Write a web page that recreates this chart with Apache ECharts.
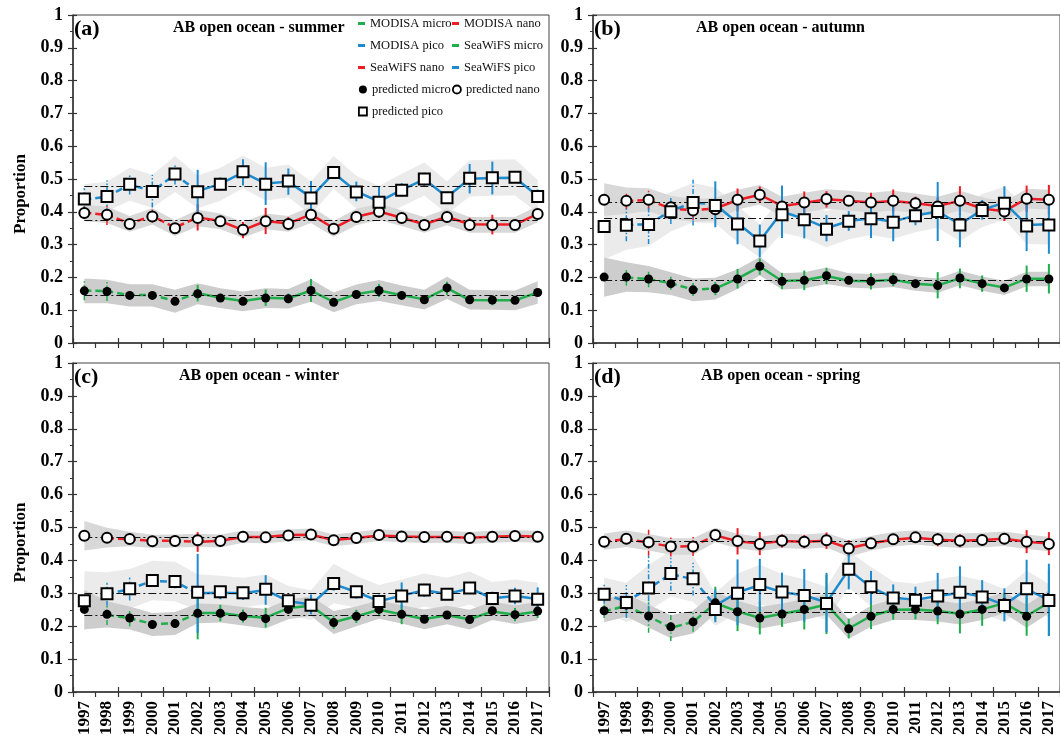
<!DOCTYPE html>
<html><head><meta charset="utf-8">
<script src="https://cdn.jsdelivr.net/npm/echarts@6/dist/echarts.min.js"></script>
<style>html,body{margin:0;padding:0;background:#fff}#c{width:1060px;height:740px}</style>
</head><body><div id="c"></div>
<script>
// ---------------- DATA ----------------
const years = ['1997','1998','1999','2000','2001','2002','2003','2004','2005','2006','2007','2008','2009','2010','2011','2012','2013','2014','2015','2016','2017'];
const panelLabels = ['(a)','(b)','(c)','(d)'];
const panelTitles = ['AB open ocean - summer','AB open ocean - autumn','AB open ocean - winter','AB open ocean - spring'];
const sensorSwitchYear = '2002';   // SeaWiFS (dashed) up to here, MODISA (solid) from here

// (a) summer
const aPredMicro = [0.159,0.157,0.145,0.145,0.127,0.150,0.137,0.127,0.137,0.135,0.160,0.124,0.148,0.160,0.145,0.132,0.168,0.132,0.131,0.130,0.154];
const aPredNano  = [0.396,0.391,0.363,0.386,0.350,0.381,0.371,0.345,0.371,0.363,0.391,0.348,0.384,0.400,0.381,0.360,0.384,0.360,0.360,0.360,0.393];
const aPredPico  = [0.439,0.447,0.484,0.462,0.515,0.461,0.484,0.522,0.484,0.494,0.442,0.520,0.460,0.429,0.466,0.500,0.443,0.502,0.504,0.505,0.447];
const aSatMicro  = [0.160,0.158,0.146,0.146,0.128,0.152,0.138,0.128,0.138,0.136,0.160,0.125,0.149,0.160,0.146,0.133,0.167,0.131,0.130,0.130,0.154];
const aSatNano   = [0.398,0.390,0.365,0.387,0.352,0.383,0.372,0.344,0.372,0.364,0.392,0.350,0.385,0.401,0.382,0.362,0.385,0.362,0.361,0.361,0.394];
const aSatPico   = [0.437,0.446,0.483,0.463,0.513,0.463,0.485,0.520,0.486,0.492,0.444,0.518,0.462,0.431,0.467,0.499,0.445,0.501,0.503,0.504,0.448];
const aErrMicro  = [0.03,0.03,0.01,0.01,0.01,0.025,0.01,0.01,0.025,0.015,0.035,0.01,0.01,0.02,0.01,0.01,0.02,0.01,0.015,0.01,0.01];
const aErrNano   = [0.02,0.03,0.01,0.02,0.015,0.04,0.01,0.025,0.04,0.02,0.02,0.01,0.01,0.02,0.01,0.01,0.01,0.02,0.03,0.01,0.01];
const aErrPico   = [0.035,0.05,0.03,0.05,0.03,0.065,0.02,0.04,0.065,0.04,0.05,0.015,0.03,0.045,0.02,0.02,0.01,0.045,0.05,0.01,0.02];
const aBandMicro = [0.038,0.036,0.034,0.034,0.035,0.032,0.03,0.03,0.03,0.03,0.034,0.03,0.03,0.032,0.03,0.03,0.034,0.03,0.03,0.03,0.034];
const aBandNano  = [0.025,0.025,0.024,0.025,0.024,0.025,0.024,0.024,0.024,0.024,0.025,0.024,0.025,0.025,0.024,0.024,0.025,0.024,0.024,0.024,0.025];
const aBandPico  = [0.045,0.045,0.05,0.05,0.055,0.05,0.05,0.05,0.05,0.05,0.05,0.05,0.05,0.05,0.05,0.05,0.05,0.055,0.055,0.055,0.05];
const aMean = [0.146, 0.375, 0.478]; // micro, nano, pico

// (b) autumn
const bPredMicro = [0.201,0.201,0.195,0.181,0.162,0.166,0.195,0.234,0.188,0.191,0.205,0.191,0.188,0.193,0.181,0.175,0.198,0.181,0.168,0.195,0.195];
const bPredNano  = [0.437,0.434,0.437,0.414,0.404,0.408,0.437,0.452,0.416,0.428,0.439,0.434,0.428,0.434,0.426,0.416,0.434,0.414,0.401,0.440,0.437];
const bPredPico  = [0.355,0.359,0.361,0.400,0.428,0.419,0.363,0.311,0.391,0.376,0.347,0.371,0.379,0.368,0.388,0.401,0.360,0.404,0.426,0.357,0.360];
const bSatMicro  = [null,0.200,0.195,0.182,0.163,0.166,0.196,0.233,0.189,0.191,0.204,0.190,0.188,0.193,0.181,0.176,0.197,0.181,0.169,0.196,0.196];
const bSatNano   = [null,0.433,0.436,0.410,0.405,0.410,0.436,0.452,0.418,0.427,0.438,0.434,0.428,0.433,0.426,0.418,0.433,0.410,0.402,0.440,0.437];
const bSatPico   = [null,0.360,0.362,0.403,0.428,0.423,0.366,0.311,0.400,0.379,0.350,0.372,0.380,0.370,0.389,0.401,0.362,0.406,0.428,0.360,0.362];
const bErrMicro  = [null,0.025,0.025,0.02,0.02,0.02,0.03,0.025,0.025,0.03,0.025,0.01,0.025,0.02,0.01,0.04,0.03,0.025,0.01,0.04,0.045];
const bErrNano   = [null,0.025,0.03,0.01,0.03,0.02,0.035,0.025,0.02,0.035,0.025,0.015,0.03,0.035,0.02,0.025,0.045,0.01,0.03,0.04,0.045];
const bErrPico   = [null,0.05,0.06,0.04,0.07,0.07,0.065,0.05,0.08,0.06,0.04,0.03,0.06,0.06,0.03,0.09,0.07,0.03,0.05,0.08,0.09];
const bBandMicro = [0.06,0.045,0.04,0.035,0.035,0.033,0.03,0.028,0.025,0.025,0.025,0.022,0.022,0.022,0.022,0.022,0.022,0.022,0.022,0.022,0.022];
const bBandNano  = [0.05,0.04,0.035,0.035,0.035,0.035,0.03,0.03,0.03,0.03,0.03,0.03,0.03,0.03,0.03,0.03,0.03,0.03,0.03,0.03,0.03];
const bBandPico  = [0.1,0.075,0.065,0.06,0.06,0.055,0.055,0.05,0.055,0.055,0.055,0.055,0.05,0.05,0.05,0.05,0.05,0.05,0.05,0.055,0.06];
const bMean = [0.191, 0.429, 0.379];

// (c) winter
const cPredMicro = [0.251,0.236,0.225,0.205,0.208,0.239,0.239,0.230,0.223,0.251,0.261,0.211,0.230,0.251,0.236,0.221,0.234,0.220,0.247,0.235,0.246];
const cPredNano  = [0.475,0.469,0.465,0.458,0.459,0.461,0.459,0.472,0.470,0.476,0.479,0.461,0.468,0.477,0.473,0.471,0.472,0.468,0.472,0.474,0.472];
const cPredPico  = [0.277,0.299,0.314,0.339,0.336,0.303,0.305,0.302,0.312,0.277,0.264,0.330,0.305,0.275,0.292,0.310,0.297,0.316,0.284,0.292,0.282];
const cSatMicro  = [null,0.234,0.224,0.207,0.209,0.240,0.240,0.231,0.226,0.255,0.262,0.212,0.230,0.250,0.236,0.222,0.233,0.221,0.245,0.235,0.245];
const cSatNano   = [null,0.468,0.464,0.459,0.460,0.456,0.460,0.471,0.471,0.477,0.478,0.462,0.468,0.476,0.473,0.471,0.471,0.469,0.472,0.474,0.473];
const cSatPico   = [null,0.297,0.313,0.338,0.335,0.300,0.302,0.300,0.310,0.276,0.266,0.328,0.304,0.276,0.293,0.309,0.298,0.315,0.285,0.292,0.283];
const cErrMicro  = [null,0.03,0.025,0.01,0.01,0.08,0.025,0.02,0.03,0.01,0.02,0.02,0.02,0.02,0.03,0.01,0.01,0.01,0.01,0.02,0.02];
const cErrNano   = [null,0.005,0.005,0.005,0.005,0.03,0.005,0.005,0.005,0.005,0.005,0.005,0.005,0.005,0.005,0.005,0.005,0.005,0.005,0.005,0.005];
const cErrPico   = [null,0.035,0.035,0.01,0.02,0.12,0.02,0.02,0.045,0.01,0.03,0.02,0.02,0.02,0.04,0.02,0.01,0.01,0.02,0.025,0.035];
const cBandMicro = [0.06,0.04,0.035,0.035,0.035,0.03,0.028,0.028,0.03,0.03,0.03,0.035,0.03,0.028,0.028,0.03,0.028,0.03,0.028,0.028,0.028];
const cBandNano  = [0.045,0.03,0.022,0.02,0.02,0.02,0.02,0.018,0.018,0.018,0.018,0.018,0.018,0.018,0.018,0.018,0.018,0.018,0.018,0.018,0.018];
const cBandPico  = [0.09,0.065,0.06,0.06,0.06,0.055,0.048,0.045,0.045,0.045,0.045,0.06,0.048,0.05,0.05,0.05,0.05,0.05,0.05,0.05,0.05];
const cMean = [0.233, 0.470, 0.300];

// (d) spring
const dPredMicro = [0.247,0.264,0.231,0.198,0.213,0.271,0.244,0.225,0.237,0.251,0.267,0.192,0.230,0.251,0.251,0.246,0.237,0.251,0.271,0.230,0.274];
const dPredNano  = [0.457,0.466,0.455,0.442,0.442,0.477,0.459,0.450,0.460,0.457,0.461,0.436,0.452,0.464,0.470,0.464,0.460,0.462,0.466,0.457,0.450];
const dPredPico  = [0.297,0.272,0.316,0.360,0.344,0.251,0.300,0.327,0.304,0.293,0.269,0.373,0.320,0.286,0.279,0.292,0.303,0.289,0.263,0.314,0.278];
const dSatMicro  = [0.245,0.262,0.230,0.195,0.213,0.270,0.245,0.225,0.238,0.250,0.266,0.193,0.231,0.250,0.251,0.246,0.238,0.251,0.270,0.231,0.272];
const dSatNano   = [0.456,0.465,0.454,0.442,0.443,0.476,0.458,0.451,0.459,0.457,0.460,0.437,0.452,0.463,0.469,0.463,0.460,0.462,0.466,0.457,0.451];
const dSatPico   = [0.298,0.275,0.315,0.358,0.343,0.262,0.303,0.325,0.303,0.294,0.272,0.372,0.318,0.287,0.280,0.292,0.302,0.290,0.265,0.312,0.280];
const dErrMicro  = [0.02,0.02,0.05,0.04,0.03,0.05,0.06,0.05,0.04,0.06,0.09,0.03,0.04,0.03,0.03,0.04,0.06,0.05,0.03,0.06,0.1];
const dErrNano   = [0.01,0.01,0.04,0.03,0.03,0.01,0.04,0.035,0.02,0.02,0.025,0.025,0.01,0.01,0.01,0.02,0.02,0.01,0.01,0.035,0.035];
const dErrPico   = [0.03,0.05,0.1,0.05,0.05,0.05,0.1,0.08,0.06,0.08,0.09,0.06,0.05,0.04,0.04,0.07,0.08,0.05,0.05,0.09,0.11];
const dBandMicro = [0.035,0.035,0.035,0.035,0.035,0.033,0.033,0.033,0.032,0.032,0.032,0.03,0.032,0.032,0.032,0.032,0.032,0.032,0.032,0.035,0.035];
const dBandNano  = [0.025,0.025,0.025,0.025,0.025,0.022,0.022,0.022,0.022,0.022,0.022,0.025,0.022,0.022,0.022,0.022,0.022,0.022,0.022,0.022,0.022];
const dBandPico  = [0.05,0.06,0.07,0.07,0.07,0.05,0.06,0.06,0.055,0.05,0.05,0.055,0.06,0.05,0.05,0.05,0.05,0.05,0.05,0.055,0.05];
const dMean = [0.242, 0.457, 0.301];

// ---------------- STYLE / LAYOUT ----------------
const FONT = '"Liberation Serif", "Times New Roman", serif';
const COL = {micro:'#1fae4b', nano:'#ee1c24', pico:'#1d8bcd'};
const BANDCOL = {pico:'#ebebeb', nano:'#d8d8d8', micro:'#cdcdcd'};
const PW = 476;
const layout = [
  {left:73, top:15, height:328, titleDx:100},
  {left:593, top:15, height:328, titleDx:103},
  {left:73, top:363, height:329, titleDx:106},
  {left:593, top:363, height:329, titleDx:108}
];
const panels = [
  {pred:{micro:aPredMicro,nano:aPredNano,pico:aPredPico}, sat:{micro:aSatMicro,nano:aSatNano,pico:aSatPico}, err:{micro:aErrMicro,nano:aErrNano,pico:aErrPico}, band:{micro:aBandMicro,nano:aBandNano,pico:aBandPico}, mean:aMean},
  {pred:{micro:bPredMicro,nano:bPredNano,pico:bPredPico}, sat:{micro:bSatMicro,nano:bSatNano,pico:bSatPico}, err:{micro:bErrMicro,nano:bErrNano,pico:bErrPico}, band:{micro:bBandMicro,nano:bBandNano,pico:bBandPico}, mean:bMean},
  {pred:{micro:cPredMicro,nano:cPredNano,pico:cPredPico}, sat:{micro:cSatMicro,nano:cSatNano,pico:cSatPico}, err:{micro:cErrMicro,nano:cErrNano,pico:cErrPico}, band:{micro:cBandMicro,nano:cBandNano,pico:cBandPico}, mean:cMean},
  {pred:{micro:dPredMicro,nano:dPredNano,pico:dPredPico}, sat:{micro:dSatMicro,nano:dSatNano,pico:dSatPico}, err:{micro:dErrMicro,nano:dErrNano,pico:dErrPico}, band:{micro:dBandMicro,nano:dBandNano,pico:dBandPico}, mean:dMean}
];
const SPLIT = years.indexOf(sensorSwitchYear);
const groups = ['micro','nano','pico'];

const option = {animation:false, backgroundColor:'#fff', grid:[], xAxis:[], yAxis:[], series:[], title:[], legend:[]};

panels.forEach((p, k) => {
  const L = layout[k];
  const bottomRow = k >= 2, leftCol = k % 2 === 0;
  const xi = 2*k, yi = 2*k;
  option.grid.push({left:L.left, top:L.top, width:PW, height:L.height, show:true, borderColor:'#444', borderWidth:1, backgroundColor:'transparent'});
  option.xAxis.push({type:'category', gridIndex:k, data:years, position:'bottom', boundaryGap:true,
    axisLine:{show:true, lineStyle:{color:'#333', width:1.5}},
    axisTick:{show:true, length:5, lineStyle:{color:'#333', width:1.2}},
    axisLabel:{show:bottomRow, rotate:90, interval:0, fontFamily:FONT, fontWeight:'bold', fontSize:17, color:'#000', margin:9},
    splitLine:{show:false}});
  option.xAxis.push({type:'category', gridIndex:k, data:years, position:'bottom', boundaryGap:true,
    axisLine:{show:false}, axisTick:{show:true, inside:true, length:5, lineStyle:{color:'#333', width:1.2}},
    axisLabel:{show:false}, splitLine:{show:false}});
  option.yAxis.push({type:'value', gridIndex:k, min:0, max:1, interval:0.1, position:'left',
    name: leftCol ? 'Proportion' : '', nameLocation:'middle', nameGap:44, nameRotate:90,
    nameTextStyle:{fontFamily:FONT, fontWeight:'bold', fontSize:17, color:'#000', padding:[0,30,0,0]},
    axisLine:{show:true, lineStyle:{color:'#333', width:1.5}},
    axisTick:{show:true, length:5, lineStyle:{color:'#333', width:1.2}},
    minorTick:{show:true, splitNumber:2, length:3, lineStyle:{color:'#333', width:1}},
    axisLabel:{fontFamily:FONT, fontWeight:'bold', fontSize:18, color:'#000', margin:10},
    splitLine:{show:false}, minorSplitLine:{show:false}});
  option.yAxis.push({type:'value', gridIndex:k, min:0, max:1, interval:0.1, position:'left',
    axisLine:{show:false}, axisTick:{show:true, inside:true, length:4, lineStyle:{color:'#333', width:1.2}},
    axisLabel:{show:false}, splitLine:{show:false}});

  option.title.push({text:panelLabels[k], left:L.left+1, top:L.top+3, padding:0,
    textStyle:{fontFamily:FONT, fontWeight:'bold', fontSize:22, color:'#000'}});
  option.title.push({text:panelTitles[k], left:L.left+L.titleDx, top:L.top+5, padding:0,
    textStyle:{fontFamily:FONT, fontWeight:'bold', fontSize:16, color:'#000'}});

  // bands (pico lightest first, micro darkest last)
  ['pico','nano','micro'].forEach(g => {
    const pred = p.pred[g], half = p.band[g];
    option.series.push({type:'custom', xAxisIndex:xi, yAxisIndex:yi, z:1, silent:true,
      data: pred.map((v,i)=>[i, v]), encode:{x:0, y:1},
      renderItem(params, api){
        if (params.dataIndex !== 0) return null;
        const up = pred.map((v,i)=>api.coord([i, v + half[i]]));
        const lo = pred.map((v,i)=>api.coord([i, v - half[i]])).reverse();
        return {type:'polygon', shape:{points: up.concat(lo)}, style:{fill:BANDCOL[g]}};
      }});
  });

  // mean lines
  option.series.push({type:'line', xAxisIndex:xi, yAxisIndex:yi, z:2, silent:true, data:[],
    markLine:{silent:true, symbol:['none','none'], label:{show:false}, animation:false,
      lineStyle:{color:'#111', width:1, type:[8,3,2,3]},
      data: p.mean.map(m => [{coord:[years[0], m]}, {coord:[years[years.length-1], m]}])}});

  groups.forEach(g => {
    const sat = p.sat[g], err = p.err[g], color = COL[g];
    [true, false].forEach(sea => {
      const data = [];
      sat.forEach((v,i) => {
        if (v == null || err[i] == null) return;
        if (sea ? i < SPLIT : i >= SPLIT) data.push([i, v - err[i], v + err[i]]);
      });
      option.series.push({type:'custom', xAxisIndex:xi, yAxisIndex:yi, z:3, silent:true, data, encode:{x:0, y:[1,2]},
        renderItem(params, api){
          const a = api.coord([api.value(0), api.value(1)]);
          const b = api.coord([api.value(0), api.value(2)]);
          return {type:'line', shape:{x1:a[0], y1:a[1], x2:b[0], y2:b[1]},
            style:{stroke:color, lineWidth: sea ? 1.5 : 2, lineDash: sea ? [5,2,1.5,2] : null}};
        }});
    });
    option.series.push({type:'line', name:'SeaWiFS ' + g, xAxisIndex:xi, yAxisIndex:yi, z:4, silent:true,
      data: sat.map((v,i)=> i <= SPLIT ? v : null), symbol:'none', connectNulls:false,
      color:color, itemStyle:{color:color}, lineStyle:{color:color, width:2.5, type:[7,4]}});
    option.series.push({type:'line', name:'MODISA ' + g, xAxisIndex:xi, yAxisIndex:yi, z:4, silent:true,
      data: sat.map((v,i)=> i >= SPLIT ? v : null), symbol:'none', connectNulls:false,
      color:color, itemStyle:{color:color}, lineStyle:{color:color, width:2.5, type:'solid'}});
  });

  option.series.push({type:'scatter', name:'predicted micro', xAxisIndex:xi, yAxisIndex:yi, z:6, silent:true,
    data:p.pred.micro, symbol:'circle', symbolSize:9, itemStyle:{color:'#000', opacity:1}});
  option.series.push({type:'scatter', name:'predicted nano', xAxisIndex:xi, yAxisIndex:yi, z:6, silent:true,
    data:p.pred.nano, symbol:'circle', symbolSize:10, itemStyle:{color:'#fff', borderColor:'#000', borderWidth:2, opacity:1}});
  option.series.push({type:'scatter', name:'predicted pico', xAxisIndex:xi, yAxisIndex:yi, z:6, silent:true,
    data:p.pred.pico, symbol:'rect', symbolSize:11, itemStyle:{color:'#fff', borderColor:'#000', borderWidth:2, opacity:1}});
});

// legend (inside panel a, two columns)
const legText = {fontFamily:FONT, fontSize:12.5, color:'#111', lineHeight:15};
function lineItem(name, g){ return {name, icon:'rect', itemStyle:{color:COL[g], borderWidth:0}}; }
option.legend.push({left:358, top:16, orient:'vertical', padding:0, itemGap:7, itemWidth:7, itemHeight:3, itemTextGap:2, selectedMode:false,
  textStyle:legText, data:[lineItem('MODISA micro','micro'), lineItem('MODISA pico','pico'), lineItem('SeaWiFS nano','nano')]});
option.legend.push({left:452, top:16, orient:'vertical', padding:0, itemGap:7, itemWidth:7, itemHeight:3, itemTextGap:2, selectedMode:false,
  textStyle:legText, data:[lineItem('MODISA nano','nano'), lineItem('SeaWiFS micro','micro'), lineItem('SeaWiFS pico','pico')]});
option.legend.push({left:358, top:82, orient:'vertical', padding:0, itemGap:7, itemWidth:8, itemHeight:8, itemTextGap:1, selectedMode:false,
  textStyle:legText, data:[
    {name:'predicted micro', icon:'circle', itemStyle:{color:'#000', borderWidth:0}},
    {name:'predicted pico', icon:'rect', itemStyle:{color:'#fff', borderColor:'#000', borderWidth:1.8}}]});
option.legend.push({left:452, top:82, orient:'vertical', padding:0, itemGap:7, itemWidth:8, itemHeight:8, itemTextGap:1, selectedMode:false,
  textStyle:legText, data:[
    {name:'predicted nano', icon:'circle', itemStyle:{color:'#fff', borderColor:'#000', borderWidth:1.8}}]});

const chart = echarts.init(document.getElementById('c'), null, {renderer:'canvas'});
chart.setOption(option);
</script>
</body></html>
